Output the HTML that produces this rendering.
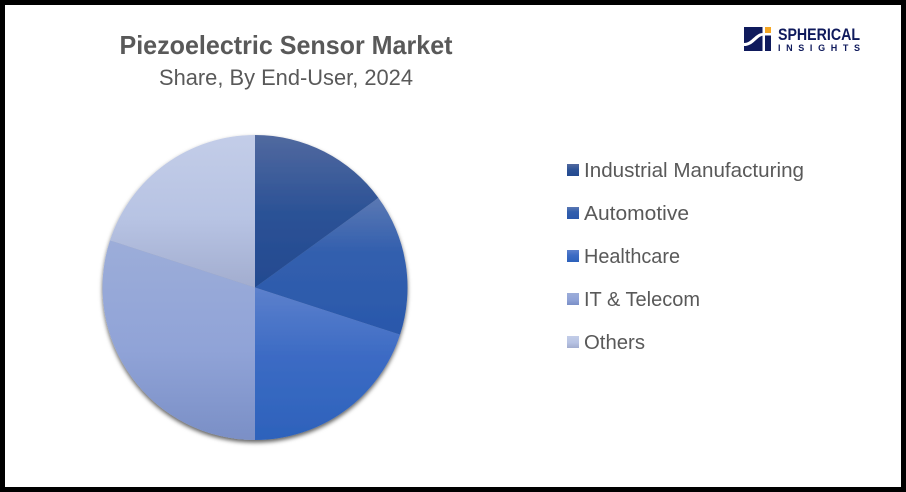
<!DOCTYPE html>
<html lang="en">
<head>
<meta charset="utf-8">
<title>Piezoelectric Sensor Market</title>
<style>
  html, body { margin: 0; padding: 0; background: #fff; }
  body { width: 906px; height: 492px; overflow: hidden; }
  svg { display: block; }
  text { font-family: "Liberation Sans", "DejaVu Sans", sans-serif; }
</style>
</head>
<body>
<svg id="chart" xmlns="http://www.w3.org/2000/svg" width="906" height="492" viewBox="0 0 906 492">
  <defs>
    <linearGradient id="g0" x1="0" y1="0" x2="0" y2="1"><stop offset="0" stop-color="#51699f"/><stop offset="0.5" stop-color="#2c5296"/><stop offset="1" stop-color="#234a90"/></linearGradient>
    <linearGradient id="g1" x1="0" y1="0" x2="0" y2="1"><stop offset="0" stop-color="#5b78b3"/><stop offset="0.4" stop-color="#325fae"/><stop offset="1" stop-color="#2a58ab"/></linearGradient>
    <linearGradient id="g2" x1="0" y1="0" x2="0" y2="1"><stop offset="0" stop-color="#5c80cc"/><stop offset="0.45" stop-color="#3c6bc4"/><stop offset="1" stop-color="#2d62bb"/></linearGradient>
    <linearGradient id="g3" x1="0" y1="0" x2="0" y2="1"><stop offset="0" stop-color="#9cadd9"/><stop offset="0.55" stop-color="#90a3d7"/><stop offset="1" stop-color="#7a8fc6"/></linearGradient>
    <linearGradient id="g4" x1="0" y1="0" x2="0" y2="1"><stop offset="0" stop-color="#c3cde8"/><stop offset="0.55" stop-color="#b7c3e3"/><stop offset="1" stop-color="#a2adcf"/></linearGradient>
    <filter id="pie-shadow" x="-10%" y="-10%" width="120%" height="120%">
      <feDropShadow dx="0" dy="2.5" stdDeviation="2.2" flood-color="#000" flood-opacity="0.62"/>
    </filter>
  </defs>

  <rect x="0" y="0" width="906" height="492" fill="#fff"/>

  <text x="286" y="54" text-anchor="middle" font-size="26" font-weight="700" fill="#595959" textLength="333" lengthAdjust="spacingAndGlyphs">Piezoelectric Sensor Market</text>
  <text x="286" y="85" text-anchor="middle" font-size="22" fill="#595959" textLength="254" lengthAdjust="spacingAndGlyphs">Share, By End-User, 2024</text>

  <g>
    <rect x="744" y="27" width="27" height="24" fill="#0f1a5c"/>
    <path d="M744 43 C752 43 755 33 763 33 L771 33 L771 35.5 L764 35.5 C757 35.5 754 46 744 46 Z" fill="#fff"/>
    <rect x="762.5" y="27" width="2.5" height="24" fill="#fff"/>
    <rect x="765" y="27" width="6" height="6" fill="#f5a623"/>
    <text x="778" y="40" font-size="16.5" font-weight="700" fill="#0f1a5c" textLength="82" lengthAdjust="spacingAndGlyphs">SPHERICAL</text>
    <text x="778" y="51" font-size="9" font-weight="700" fill="#0f1a5c" textLength="82" lengthAdjust="spacing">INSIGHTS</text>
  </g>

  <g id="pie" filter="url(#pie-shadow)"></g>
  <g id="legend"></g>

  <path fill="#000" fill-rule="evenodd" d="M0 0H906V492H0Z M5 5V487H901V5Z"/>
</svg>

<script>
const categories = ["Industrial Manufacturing", "Automotive", "Healthcare", "IT & Telecom", "Others"];
const shareValues = [15, 15, 20, 30, 20];

const svgNS = "http://www.w3.org/2000/svg";
const pieCenterX = 255;
const pieCenterY = 287.5;
const pieRadius = 152.5;
const legendX = 567;
const legendTop = 164;
const legendStep = 43;
const legendLabelWidths = [220, 105, 96, 116, 61];

function angleScale(cumulative, total) {
  return (cumulative / total) * Math.PI * 2;
}

function pointAt(angle) {
  return [pieCenterX + pieRadius * Math.sin(angle), pieCenterY - pieRadius * Math.cos(angle)];
}

function slicePath(startAngle, endAngle) {
  const a = pointAt(startAngle);
  const b = pointAt(endAngle);
  const large = endAngle - startAngle > Math.PI ? 1 : 0;
  return "M" + pieCenterX + " " + pieCenterY +
    "L" + a[0].toFixed(2) + " " + a[1].toFixed(2) +
    "A" + pieRadius + " " + pieRadius + " 0 " + large + " 1 " + b[0].toFixed(2) + " " + b[1].toFixed(2) + "Z";
}

const total = shareValues.reduce(function (s, v) { return s + v; }, 0);
const pieGroup = document.getElementById("pie");
const legendGroup = document.getElementById("legend");
let running = 0;

shareValues.forEach(function (value, i) {
  const slice = document.createElementNS(svgNS, "path");
  slice.setAttribute("d", slicePath(angleScale(running, total), angleScale(running + value, total)));
  slice.setAttribute("fill", "url(#g" + i + ")");
  
  
  pieGroup.appendChild(slice);
  running += value;

  const swatch = document.createElementNS(svgNS, "rect");
  swatch.setAttribute("x", legendX);
  swatch.setAttribute("y", legendTop + i * legendStep);
  swatch.setAttribute("width", 12);
  swatch.setAttribute("height", 12);
  swatch.setAttribute("fill", "url(#g" + i + ")");
  
  
  legendGroup.appendChild(swatch);

  const label = document.createElementNS(svgNS, "text");
  label.setAttribute("x", legendX + 17);
  label.setAttribute("y", legendTop + 13 + i * legendStep);
  label.setAttribute("font-size", 20);
  label.setAttribute("fill", "#595959");
  label.setAttribute("textLength", legendLabelWidths[i]);
  label.setAttribute("lengthAdjust", "spacingAndGlyphs");
  label.textContent = categories[i];
  
  
  legendGroup.appendChild(label);
});
</script>
</body>
</html>
